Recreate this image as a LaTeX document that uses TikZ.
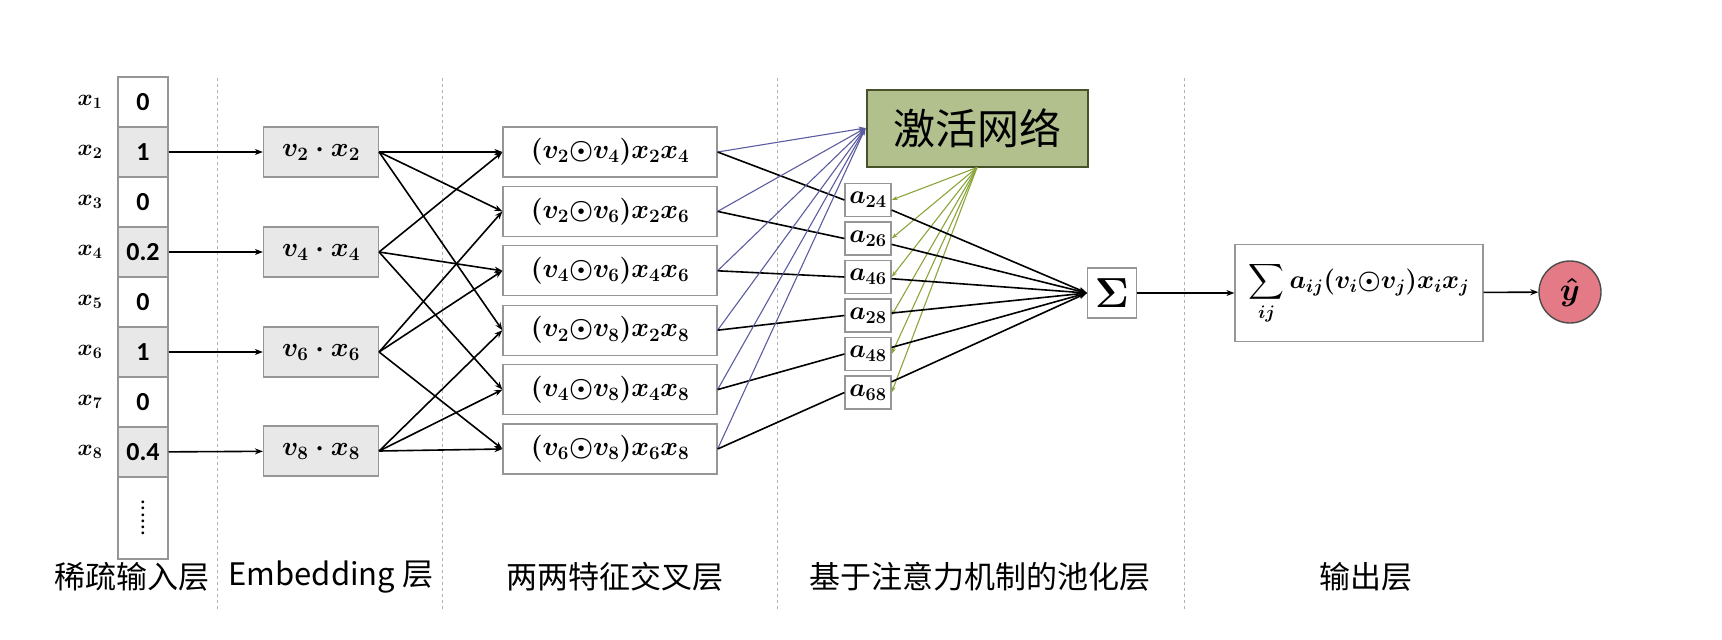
\RequirePackage{fix-cm}
\documentclass[tikz,border=0pt]{standalone}
\usepackage{amsmath}
\usepackage{fontspec}
\newfontfamily\cjk{Noto Sans CJK SC}
\newfontfamily\digitfont{Carlito}
\usetikzlibrary{arrows.meta}

\definecolor{cellgray}{RGB}{232,232,232}
\definecolor{boxedge}{RGB}{150,150,150}
\definecolor{actfill}{RGB}{178,192,142}
\definecolor{actedge}{RGB}{72,82,42}
\definecolor{linkblue}{RGB}{92,92,160}
\definecolor{linkgreen}{RGB}{138,165,58}
\definecolor{outpink}{RGB}{228,122,134}

\begin{document}
\begin{tikzpicture}[x=1pt, y=-1pt, line width=1.6pt,
  cell/.style={draw=boxedge, line width=1.2pt, minimum width=50pt, minimum height=50pt,
    inner sep=0pt, font=\digitfont\bfseries\fontsize{26}{30}\selectfont},
  embbox/.style={draw=boxedge, line width=1.2pt, fill=cellgray, minimum width=115pt,
    minimum height=50pt, inner sep=0pt, font=\fontsize{27}{30}\selectfont\boldmath},
  crossbox/.style={draw=boxedge, line width=1.2pt, fill=white, minimum width=214pt,
    minimum height=50pt, inner sep=0pt, font=\fontsize{27}{30}\selectfont\boldmath},
  attbox/.style={draw=boxedge, line width=1.2pt, fill=white, minimum width=46pt,
    minimum height=33pt, inner sep=0pt, font=\fontsize{26}{30}\selectfont\boldmath},
  link/.style={black, -{Stealth[length=8pt,width=6pt]}},
  bluelink/.style={linkblue, line width=1.1pt, -{Stealth[length=7pt,width=5pt]}},
  greenlink/.style={linkgreen, line width=1.1pt, -{Stealth[length=6pt,width=4pt]}},
  layername/.style={font=\cjk\fontsize{31}{36}\selectfont, inner sep=0pt}
]
  \useasboundingbox (0,0) rectangle (1722,640);

  % ───────── Layer separators ─────────
  \foreach \x in {217,442,777,1184}
    \draw[dashed, gray!60, line width=1pt, dash pattern=on 3pt off 3pt] (\x,78) -- (\x,610);

  % ───────── Sparse input column ─────────
  \foreach \i/\val/\fc in {1/0/white,2/1/cellgray,3/0/white,4/0.2/cellgray,
                           5/0/white,6/1/cellgray,7/0/white,8/0.4/cellgray} {
    \node[cell, fill=\fc] (in\i) at (143, 52+50*\i) {\val};
    \node[font=\fontsize{23}{26}\selectfont\boldmath] (lab\i) at (90, 52+50*\i) {$x_{\i}$};
  }
  \node[cell, minimum height=82pt] (in9) at (143,518) {};
  \node[rotate=90, font=\bfseries\fontsize{20}{24}\selectfont] (dots) at (143,518) {......};

  % ───────── Embedding layer ─────────
  \foreach \k/\y in {2/152,4/252,6/352,8/451} {
    \node[embbox] (emb\k) at (321,\y) {$v_{\k}\cdot x_{\k}$};
    \draw[link] (in\k) -- (emb\k);
  }

  % ───────── Pairwise interaction layer ─────────
  \foreach \a/\b/\n in {2/4/0,2/6/1,4/6/2,2/8/3,4/8/4,6/8/5} {
    \node[crossbox] (cr\a\b) at (610, 152+59.4*\n)
      {$(v_{\a}{\odot}v_{\b})x_{\a}x_{\b}$};
    \draw[link] (emb\a.east) -- (cr\a\b.west);
    \draw[link] (emb\b.east) -- (cr\a\b.west);
  }

  % ───────── Attention network ─────────
  \node[draw=actedge, line width=2pt, fill=actfill, minimum width=221pt, minimum height=77pt,
    inner sep=0pt, font=\cjk\fontsize{42}{48}\selectfont] (act) at (977,128) {激活网络};

  \foreach \a/\b/\n in {2/4/0,2/6/1,4/6/2,2/8/3,4/8/4,6/8/5} {
    \node[attbox] (att\a\b) at (868, 200+38.5*\n) {$a_{\a\b}$};
    \draw[bluelink] (cr\a\b.east) -- (act.west);
    \draw (cr\a\b.east) -- (att\a\b.west);
    \draw[greenlink] (act.south) -- (att\a\b.east);
  }

  % ───────── Sum pooling and output ─────────
  \node[draw=boxedge, line width=1.2pt, minimum width=49pt, minimum height=50pt, inner sep=0pt,
    font=\fontsize{42}{46}\selectfont\boldmath] (sigma) at (1112,293) {$\Sigma$};
  \foreach \a/\b in {2/4,2/6,4/6,2/8,4/8,6/8}
    \draw[link] (att\a\b) -- (sigma.west);

  \node[draw=boxedge, line width=1.2pt, minimum width=248pt, minimum height=97pt, inner sep=0pt,
    font=\fontsize{26}{30}\selectfont\boldmath] (sum) at (1359,293)
    {$\displaystyle\sum_{ij} a_{ij}(v_i{\odot}v_j)x_ix_j$};
  \node[circle, draw=black!70, line width=1.4pt, fill=outpink, minimum size=62pt, inner sep=0pt,
    font=\fontsize{32}{36}\selectfont\boldmath] (yhat) at (1570,292) {$\hat{y}$};
  \draw[link] (sigma) -- (sum);
  \draw[link] (sum) -- (yhat);

  % ───────── Layer names ─────────
  \node[layername] (n1) at (132,577) {稀疏输入层};
  \node[layername] (n2) at (331,577) {Embedding 层};
  \node[layername] (n3) at (615,577) {两两特征交叉层};
  \node[layername] (n4) at (980,577) {基于注意力机制的池化层};
  \node[layername] (n5) at (1366,577) {输出层};

\end{tikzpicture}
\end{document}
